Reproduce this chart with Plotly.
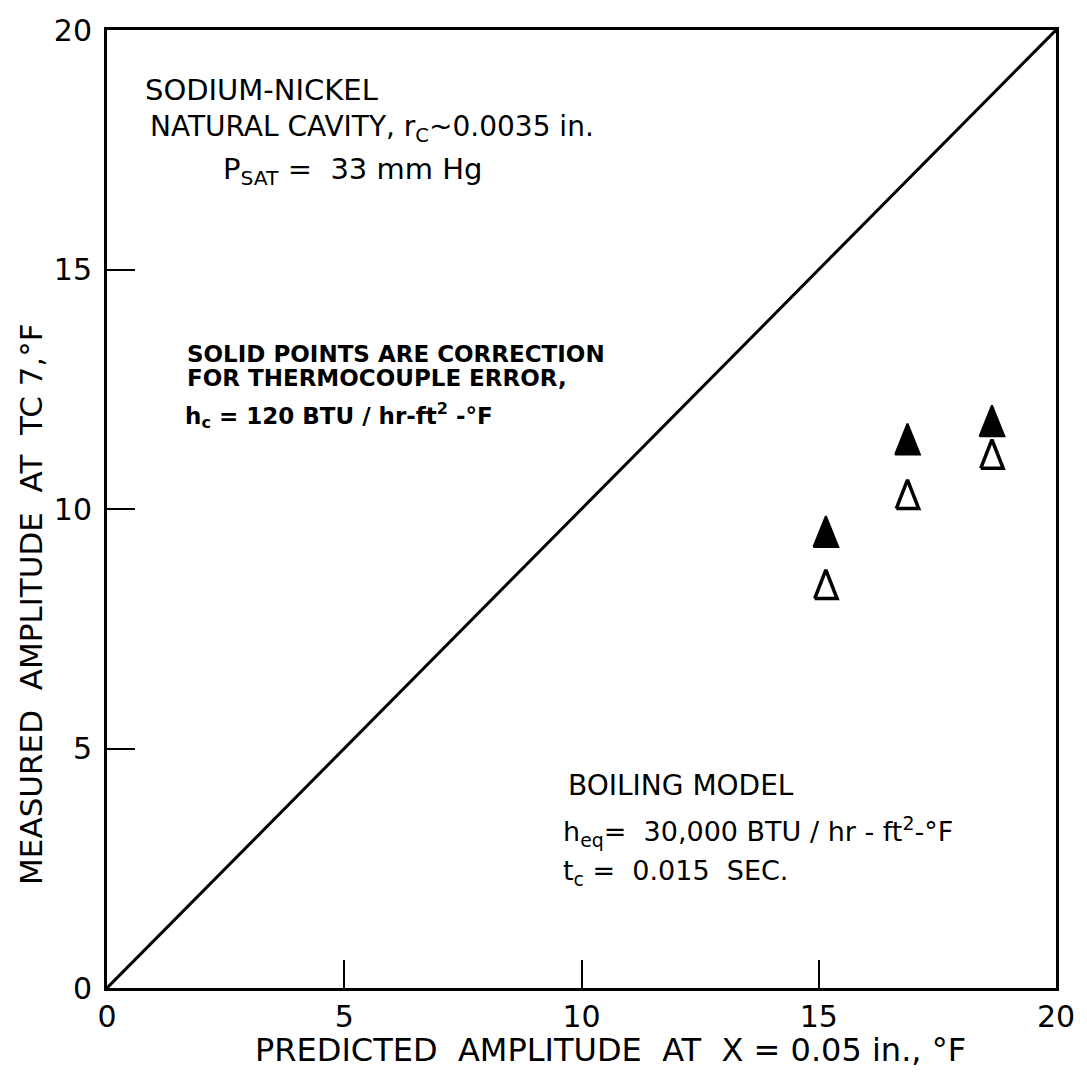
import plotly.graph_objects as go

# Predicted vs. measured temperature amplitude (deg F)
predicted = [15.15, 16.87, 18.65]
measured_open = [8.43, 10.31, 11.15]      # as measured
measured_solid = [9.53, 11.46, 11.84]     # corrected for thermocouple error
identity = [0, 20]

x_ticks = [0, 5, 10, 15, 20]
y_ticks = [0, 5, 10, 15, 20]

FONT = "DejaVu Sans"


def triangles(xs, ys, half_w, half_h):
    """Tall narrow triangle outlines centred on each (x, y), in axis units."""
    px, py = [], []
    for x, y in zip(xs, ys):
        px += [x - half_w, x + half_w, x, x - half_w, None]
        py += [y - half_h, y - half_h, y + half_h, y - half_h, None]
    return px, py


fig = go.Figure()

# line of perfect agreement
fig.add_trace(go.Scatter(x=identity, y=identity, mode="lines",
                         line=dict(color="black", width=3),
                         hoverinfo="skip", showlegend=False))

ox, oy = triangles(predicted, measured_open, 0.236, 0.30)
fig.add_trace(go.Scatter(x=ox, y=oy, mode="lines", fill="toself",
                         fillcolor="white",
                         line=dict(color="black", width=3.5),
                         showlegend=False, name="measured"))

sx, sy = triangles(predicted, measured_solid, 0.262, 0.323)
fig.add_trace(go.Scatter(x=sx, y=sy, mode="lines", fill="toself",
                         fillcolor="black",
                         line=dict(color="black", width=2),
                         showlegend=False, name="corrected"))

notes = [
    (0.76, 18.75, "SODIUM-NICKEL", 29, False),
    (0.86, 17.95, "NATURAL CAVITY, r<sub>C</sub>~0.0035 in.", 28, False),
    (2.41, 17.05, "P<sub>SAT</sub> =  33 mm Hg", 29, False),
    (1.64, 13.24, "SOLID POINTS ARE CORRECTION", 23, True),
    (1.64, 12.74, "FOR THERMOCOUPLE ERROR,", 23, True),
    (1.60, 11.95, "h<sub>c</sub> = 120 BTU / hr-ft<sup>2</sup> -°F", 23, True),
    (9.67, 4.22, "BOILING MODEL", 28, False),
    (9.57, 3.27, "h<sub>eq</sub>=  30,000 BTU / hr - ft<sup>2</sup>-°F", 27, False),
    (9.57, 2.42, "t<sub>c</sub> =  0.015  SEC.", 27, False),
]
for x, y, text, size, bold in notes:
    fig.add_annotation(x=x, y=y, xref="x", yref="y", text=text,
                       showarrow=False, xanchor="left", yanchor="middle",
                       font=dict(family=FONT, size=size, color="black",
                                 weight="bold" if bold else "normal"))

# axis titles
fig.add_annotation(x=0.531, y=-0.065, xref="paper", yref="paper",
                   text="PREDICTED  AMPLITUDE  AT  X = 0.05 in., °F",
                   showarrow=False, xanchor="center", yanchor="middle",
                   font=dict(family=FONT, size=32, color="black"))
fig.add_annotation(x=-0.08, y=0.40, xref="paper", yref="paper",
                   text="MEASURED  AMPLITUDE  AT  TC 7,°F", textangle=-90,
                   showarrow=False, xanchor="center", yanchor="middle",
                   font=dict(family=FONT, size=31, color="black"))

axis_common = dict(range=[0, 20], showgrid=False, zeroline=False,
                   showline=True, linewidth=3, linecolor="black", mirror=True,
                   ticks="inside", ticklen=28, tickwidth=2, tickcolor="black",
                   tickfont=dict(family=FONT, size=30, color="black"))

fig.update_xaxes(tickvals=x_ticks, ticktext=[str(t) for t in x_ticks],
                 **axis_common)
fig.update_yaxes(tickvals=y_ticks, ticktext=[str(t) for t in y_ticks],
                 ticklabelstandoff=6, **axis_common)

fig.update_layout(width=1087, height=1078, autosize=False,
                  margin=dict(l=107, r=27, t=27, b=90),
                  plot_bgcolor="white", paper_bgcolor="white",
                  showlegend=False)

fig.write_html("out.html")
